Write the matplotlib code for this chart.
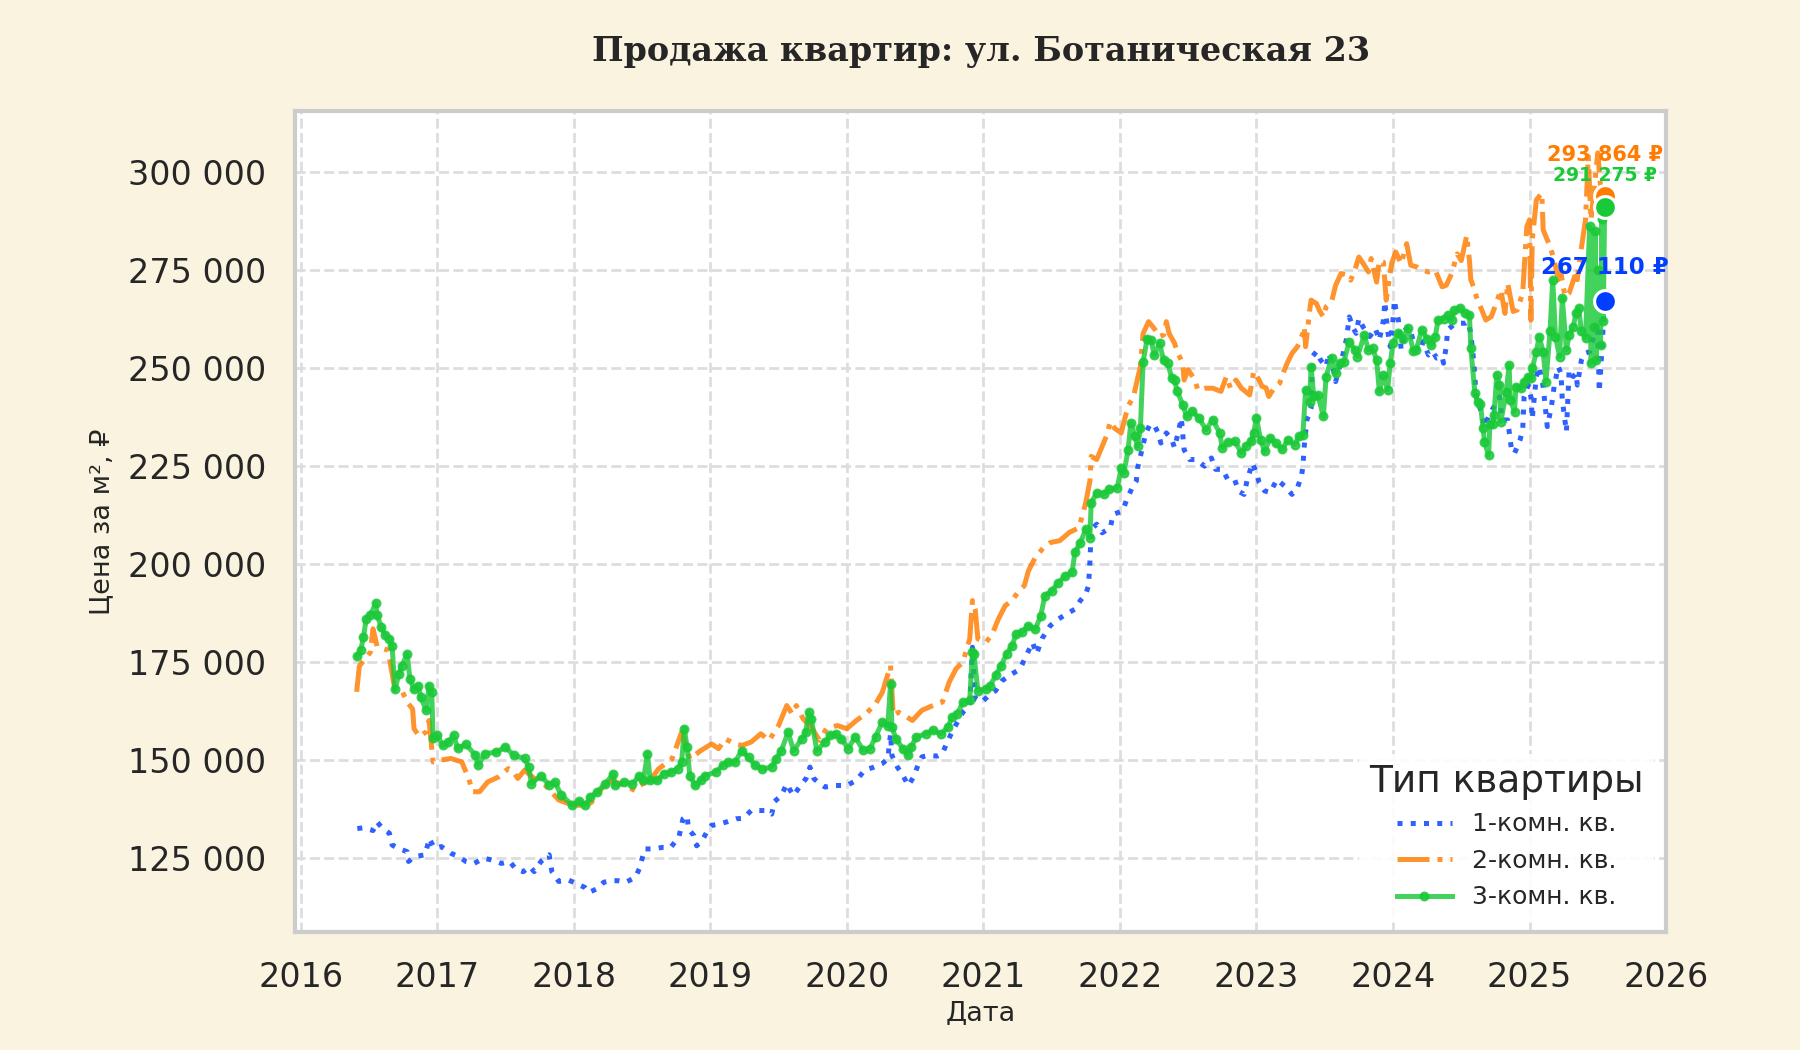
import matplotlib
matplotlib.use("Agg")
import matplotlib.pyplot as plt
import numpy as np
from matplotlib.ticker import FuncFormatter, FixedLocator

# ---------------- data (decimal years, price per m2) ----------------
t1 = [2016.415, 2016.46, 2016.53, 2016.56, 2016.60, 2016.65, 2016.67, 2016.71, 2016.78, 2016.79,
      2016.83, 2016.91, 2016.93, 2016.94, 2016.98, 2017.03, 2017.10, 2017.16, 2017.21, 2017.27,
      2017.34, 2017.40, 2017.47, 2017.53, 2017.58, 2017.63, 2017.68, 2017.71, 2017.76, 2017.82,
      2017.84, 2017.89, 2017.96, 2018.04, 2018.08, 2018.11, 2018.17, 2018.22, 2018.27, 2018.32,
      2018.38, 2018.45, 2018.48, 2018.52, 2018.58, 2018.65, 2018.71, 2018.77, 2018.80, 2018.83,
      2018.84, 2018.88, 2018.90, 2018.94, 2018.98, 2019.01, 2019.07, 2019.13, 2019.19, 2019.24,
      2019.30, 2019.37, 2019.41, 2019.45, 2019.47, 2019.52, 2019.56, 2019.58, 2019.61, 2019.66,
      2019.70, 2019.73, 2019.76, 2019.79, 2019.84, 2019.92, 2020.00, 2020.07, 2020.13, 2020.20,
      2020.26, 2020.30, 2020.32, 2020.33, 2020.37, 2020.41, 2020.45, 2020.49, 2020.52, 2020.55,
      2020.60, 2020.66, 2020.70, 2020.73, 2020.77, 2020.81, 2020.85, 2020.90, 2020.92, 2020.94,
      2020.99, 2021.04, 2021.09, 2021.14, 2021.19, 2021.25, 2021.28, 2021.32, 2021.36, 2021.39,
      2021.43, 2021.49, 2021.55, 2021.61, 2021.67, 2021.71, 2021.75, 2021.77, 2021.78, 2021.79,
      2021.83, 2021.87, 2021.93, 2021.95, 2022.02, 2022.05, 2022.09, 2022.12, 2022.13, 2022.15,
      2022.17, 2022.19, 2022.22, 2022.25, 2022.28, 2022.30, 2022.34, 2022.38, 2022.40, 2022.42,
      2022.45, 2022.47, 2022.51, 2022.56, 2022.62, 2022.67, 2022.70, 2022.75, 2022.79, 2022.84,
      2022.87, 2022.91, 2022.93, 2022.97, 2023.00, 2023.02, 2023.06, 2023.10, 2023.15, 2023.22,
      2023.26, 2023.30, 2023.33, 2023.34, 2023.35, 2023.37, 2023.40, 2023.41, 2023.44, 2023.47,
      2023.51, 2023.53, 2023.56, 2023.58, 2023.63, 2023.66, 2023.68, 2023.71, 2023.73, 2023.75,
      2023.78, 2023.83, 2023.87, 2023.90, 2023.93, 2023.94, 2023.96, 2023.98, 2024.00, 2024.01,
      2024.02, 2024.04, 2024.06, 2024.09, 2024.12, 2024.16, 2024.20, 2024.22, 2024.26, 2024.29,
      2024.32, 2024.36, 2024.37, 2024.39, 2024.40, 2024.44, 2024.48, 2024.53, 2024.55, 2024.57,
      2024.59, 2024.61, 2024.65, 2024.67, 2024.71, 2024.74, 2024.78, 2024.80, 2024.84, 2024.87,
      2024.89, 2024.93, 2024.95, 2024.96, 2024.99, 2025.01, 2025.02, 2025.05, 2025.07, 2025.10,
      2025.12, 2025.13, 2025.16, 2025.18, 2025.21, 2025.23, 2025.24, 2025.27, 2025.29, 2025.32,
      2025.34, 2025.35, 2025.38, 2025.40, 2025.44, 2025.47, 2025.50, 2025.51, 2025.52, 2025.55]
v1 = [132500, 132700, 132000, 134200, 132500, 131300, 128300, 127500, 126600, 124100,
      125300, 125800, 128300, 130000, 127500, 127900, 126200, 125300, 124100, 123600,
      124900, 124500, 123600, 124100, 122000, 121500, 122800, 121500, 124100, 125800,
      121500, 119000, 119400, 118100, 117500, 116200, 117100, 118800, 119200, 119200,
      118800, 120000, 122200, 127300, 127300, 127700, 127700, 130300, 135000, 135800,
      132400, 130700, 128100, 129400, 132000, 133300, 133700, 134300, 135000, 135100,
      137100, 137100, 137100, 136200, 139400, 140900, 143900, 142600, 140900, 143500,
      145200, 148200, 145200, 144300, 143100, 143500, 143500, 144800, 147400, 148200,
      149100, 150300, 156700, 151200, 148200, 146100, 143500, 145700, 148600, 150800,
      151200, 151000, 151600, 154200, 157100, 159700, 162200, 163900, 178800, 165600,
      164800, 166500, 167700, 170300, 171600, 172800, 174100, 177100, 180000, 177100,
      181000, 184300, 186000, 187300, 188500, 190700, 192400, 194500, 200400, 208900,
      210200, 208000, 209300, 212700, 213600, 216500, 219500, 221200, 224600, 227500,
      230500, 233500, 235600, 235600, 233500, 230900, 233500, 231800, 229700, 232600,
      237300, 229200, 226700, 226700, 225000, 227100, 224200, 224200, 221600, 221600,
      218600, 217800, 221200, 225800, 223300, 220800, 218700, 218300, 221600, 219500,
      217800, 219500, 222500, 225000, 230100, 236900, 239800, 253000, 254300, 252100,
      250400, 253800, 250400, 246600, 253000, 257600, 263100, 260200, 258900, 262700,
      260600, 258100, 260200, 257200, 262300, 267000, 259800, 255500, 262300, 267400,
      265300, 262300, 254700, 259800, 260600, 255500, 254300, 256800, 253400, 254300,
      252600, 253000, 251300, 255500, 259800, 261000, 261500, 261500, 261900, 258900,
      252100, 242700, 238500, 235100, 238500, 240200, 242700, 236800, 236800, 228700,
      228300, 231700, 234200, 242700, 245700, 242700, 237200, 247900, 250400, 245300,
      238500, 235100, 240200, 245300, 250400, 248700, 241900, 233800, 249600, 247900,
      248700, 245700, 252100, 253800, 254200, 258100, 261500, 244000, 248700, 267110]

t2 = [2016.41, 2016.43, 2016.51, 2016.53, 2016.56, 2016.64, 2016.69, 2016.74, 2016.78, 2016.82,
      2016.83, 2016.87, 2016.92, 2016.94, 2016.97, 2017.03, 2017.10, 2017.18, 2017.23, 2017.26,
      2017.31, 2017.37, 2017.45, 2017.52, 2017.56, 2017.59, 2017.64, 2017.71, 2017.79, 2017.89,
      2017.99, 2018.085, 2018.13, 2018.21, 2018.28, 2018.37, 2018.45, 2018.48, 2018.56, 2018.62,
      2018.72, 2018.79, 2018.83, 2018.85, 2018.93, 2019.01, 2019.06, 2019.11, 2019.18, 2019.23,
      2019.30, 2019.37, 2019.43, 2019.50, 2019.56, 2019.60, 2019.63, 2019.68, 2019.74, 2019.80,
      2019.85, 2019.93, 2020.00, 2020.07, 2020.14, 2020.21, 2020.26, 2020.32, 2020.34, 2020.38,
      2020.42, 2020.48, 2020.55, 2020.63, 2020.70, 2020.75, 2020.80, 2020.85, 2020.90, 2020.92,
      2020.94, 2020.96, 2021.02, 2021.07, 2021.11, 2021.16, 2021.21, 2021.26, 2021.30, 2021.33,
      2021.38, 2021.44, 2021.49, 2021.56, 2021.63, 2021.70, 2021.75, 2021.78, 2021.79, 2021.83,
      2021.87, 2021.90, 2021.93, 2021.96, 2022.01, 2022.04, 2022.06, 2022.10, 2022.13, 2022.15,
      2022.17, 2022.21, 2022.25, 2022.29, 2022.32, 2022.34, 2022.36, 2022.40, 2022.42, 2022.46,
      2022.47, 2022.50, 2022.55, 2022.57, 2022.62, 2022.68, 2022.74, 2022.78, 2022.81, 2022.85,
      2022.89, 2022.95, 2022.98, 2023.02, 2023.04, 2023.07, 2023.09, 2023.13, 2023.17, 2023.20,
      2023.23, 2023.26, 2023.30, 2023.34, 2023.35, 2023.36, 2023.39, 2023.40, 2023.44, 2023.46,
      2023.49, 2023.51, 2023.55, 2023.58, 2023.62, 2023.67, 2023.69, 2023.72, 2023.75, 2023.79,
      2023.82, 2023.84, 2023.88, 2023.90, 2023.93, 2023.95, 2023.99, 2024.02, 2024.06, 2024.10,
      2024.13, 2024.18, 2024.22, 2024.26, 2024.31, 2024.36, 2024.39, 2024.43, 2024.47, 2024.50,
      2024.54, 2024.56, 2024.57, 2024.59, 2024.61, 2024.65, 2024.68, 2024.72, 2024.76, 2024.79,
      2024.82, 2024.84, 2024.88, 2024.91, 2024.95, 2024.98, 2025.00, 2025.01, 2025.02, 2025.05,
      2025.09, 2025.10, 2025.12, 2025.15, 2025.18, 2025.21, 2025.23, 2025.26, 2025.29, 2025.33,
      2025.35, 2025.36, 2025.41, 2025.43, 2025.45, 2025.47, 2025.50, 2025.52, 2025.55]
v2 = [167400, 174000, 177500, 183500, 179000, 178000, 168000, 167800, 164800, 163000,
      158000, 156000, 157200, 160100, 149500, 150000, 150400, 149500, 145300, 141900,
      141900, 144400, 145700, 147800, 146900, 145300, 147400, 145300, 143600, 139800,
      138500, 138400, 139200, 143000, 144800, 143500, 142200, 143500, 144800, 147700,
      150300, 157100, 152900, 150300, 152400, 154100, 152900, 155400, 154100, 153700,
      154600, 156700, 155000, 158800, 163900, 161800, 163900, 160500, 158400, 155000,
      158000, 158800, 158000, 160100, 161800, 164300, 167300, 174100, 161400, 162200,
      161400, 160100, 162700, 163900, 164800, 169900, 173300, 175000, 180900, 190700,
      188500, 180900, 180000, 182600, 186000, 189400, 190700, 193200, 194500, 198300,
      201700, 204200, 205500, 206000, 208100, 209300, 215700, 221200, 227500, 226700,
      230100, 232600, 236400, 234700, 233500, 237700, 240300, 242800, 247500, 250400,
      258900, 261900, 260200, 258100, 258500, 261900, 258900, 256400, 254200, 251300,
      247000, 249600, 247000, 244500, 244900, 244900, 244100, 247900, 244900, 247000,
      244900, 243200, 249200, 247000, 245400, 245000, 242800, 245000, 246200, 249200,
      251700, 253800, 255500, 258900, 260600, 255500, 264800, 267400, 266500, 264800,
      263100, 265700, 267000, 271200, 274200, 273700, 272500, 275000, 278400, 276300,
      274600, 278000, 272000, 277500, 277100, 267400, 276700, 279700, 276700, 281800,
      276300, 275800, 275000, 274600, 275000, 270800, 271200, 274200, 279200, 277500,
      283900, 277500, 272600, 270800, 268300, 264900, 262300, 263200, 267000, 270000,
      264000, 271700, 264500, 264900, 269200, 286200, 287900, 262300, 282800, 293000,
      294700, 285300, 283600, 281100, 277700, 272600, 274300, 268300, 269200, 273400,
      272600, 276000, 287900, 304100, 287900, 294700, 305000, 296400, 293864]

t3 = [2016.415, 2016.44, 2016.46, 2016.48, 2016.51, 2016.55, 2016.56, 2016.59, 2016.62, 2016.65,
      2016.67, 2016.69, 2016.72, 2016.74, 2016.78, 2016.80, 2016.83, 2016.86, 2016.88, 2016.92,
      2016.94, 2016.96, 2016.97, 2017.00, 2017.04, 2017.08, 2017.12, 2017.15, 2017.21, 2017.28,
      2017.30, 2017.35, 2017.43, 2017.50, 2017.56, 2017.64, 2017.67, 2017.69, 2017.76, 2017.82,
      2017.86, 2017.91, 2017.99, 2018.04, 2018.085, 2018.12, 2018.17, 2018.23, 2018.29, 2018.30,
      2018.37, 2018.43, 2018.48, 2018.51, 2018.54, 2018.56, 2018.61, 2018.66, 2018.71, 2018.76,
      2018.79, 2018.81, 2018.83, 2018.85, 2018.89, 2018.93, 2018.96, 2019.04, 2019.09, 2019.13,
      2019.18, 2019.23, 2019.28, 2019.33, 2019.38, 2019.45, 2019.48, 2019.52, 2019.57, 2019.61,
      2019.67, 2019.70, 2019.72, 2019.74, 2019.78, 2019.84, 2019.88, 2019.92, 2019.96, 2020.01,
      2020.06, 2020.12, 2020.17, 2020.21, 2020.26, 2020.30, 2020.32, 2020.33, 2020.36, 2020.41,
      2020.45, 2020.47, 2020.51, 2020.58, 2020.63, 2020.69, 2020.74, 2020.77, 2020.81, 2020.85,
      2020.90, 2020.92, 2020.93, 2020.96, 2021.02, 2021.05, 2021.09, 2021.13, 2021.17, 2021.21,
      2021.24, 2021.28, 2021.33, 2021.38, 2021.42, 2021.45, 2021.50, 2021.55, 2021.60, 2021.65,
      2021.67, 2021.71, 2021.75, 2021.78, 2021.79, 2021.83, 2021.88, 2021.92, 2021.98, 2022.01,
      2022.03, 2022.06, 2022.08, 2022.11, 2022.13, 2022.15, 2022.17, 2022.20, 2022.23, 2022.25,
      2022.29, 2022.32, 2022.35, 2022.38, 2022.40, 2022.42, 2022.46, 2022.49, 2022.53, 2022.58,
      2022.63, 2022.68, 2022.73, 2022.75, 2022.79, 2022.84, 2022.89, 2022.92, 2022.96, 2022.98,
      2023.00, 2023.03, 2023.06, 2023.10, 2023.14, 2023.19, 2023.23, 2023.28, 2023.31, 2023.34,
      2023.36, 2023.39, 2023.40, 2023.42, 2023.45, 2023.49, 2023.51, 2023.55, 2023.58, 2023.61,
      2023.64, 2023.68, 2023.72, 2023.74, 2023.79, 2023.82, 2023.85, 2023.88, 2023.90, 2023.93,
      2023.96, 2023.98, 2024.00, 2024.04, 2024.07, 2024.11, 2024.15, 2024.17, 2024.21, 2024.25,
      2024.28, 2024.31, 2024.33, 2024.37, 2024.40, 2024.43, 2024.45, 2024.49, 2024.53, 2024.56,
      2024.57, 2024.60, 2024.62, 2024.64, 2024.66, 2024.67, 2024.70, 2024.71, 2024.73, 2024.74,
      2024.76, 2024.78, 2024.79, 2024.83, 2024.85, 2024.86, 2024.89, 2024.90, 2024.94, 2024.96,
      2024.99, 2025.01, 2025.02, 2025.05, 2025.07, 2025.10, 2025.12, 2025.15, 2025.17, 2025.19,
      2025.22, 2025.24, 2025.27, 2025.29, 2025.32, 2025.34, 2025.36, 2025.38, 2025.41, 2025.44,
      2025.45, 2025.47, 2025.48, 2025.49, 2025.50, 2025.52, 2025.53, 2025.54, 2025.55]
v3 = [176500, 178000, 181400, 186000, 187000, 190000, 187000, 184000, 181800, 181000,
      179000, 168000, 172000, 174000, 177000, 170700, 168000, 169000, 166000, 162700,
      169000, 167400, 155500, 156300, 153800, 154500, 156300, 153000, 154000, 151200,
      148700, 151600, 152000, 153300, 151200, 150400, 148200, 144000, 146000, 143600,
      144400, 141000, 138500, 139500, 138400, 140500, 141800, 143900, 146500, 143500,
      144300, 143900, 146000, 144800, 151600, 144800, 144800, 146500, 146900, 147700,
      149400, 158000, 153300, 146000, 143500, 144800, 146000, 146900, 148600, 149400,
      149400, 152400, 150700, 148600, 147700, 148200, 150300, 152400, 157100, 152400,
      155400, 157100, 162200, 160500, 152400, 154600, 156300, 156700, 155400, 152900,
      155900, 152500, 152900, 155900, 159700, 158800, 169400, 158400, 155400, 152900,
      151200, 153300, 155900, 156700, 157600, 156700, 158400, 160900, 161800, 164800,
      165200, 177500, 177100, 167700, 168200, 169000, 171600, 174100, 177100, 179200,
      182200, 182600, 184300, 183400, 186800, 191900, 193200, 195300, 197000, 197900,
      203000, 205500, 208900, 206800, 215700, 218200, 217800, 219100, 219500, 224600,
      223300, 229200, 236000, 232600, 230100, 234700, 251700, 257600, 257200, 253400,
      256400, 252100, 251300, 247500, 247000, 244100, 240700, 237700, 239000, 237300,
      234300, 236900, 233500, 229700, 231100, 231400, 228400, 230100, 231400, 233500,
      237300, 231800, 228800, 232200, 230900, 229300, 231800, 230500, 232600, 233000,
      244500, 241500, 250400, 242800, 243200, 237700, 247900, 252600, 248700, 251300,
      251700, 256800, 254700, 253000, 258500, 254700, 255100, 252100, 244100, 248300,
      244500, 251300, 256400, 258900, 257600, 260200, 254300, 254700, 259800, 257600,
      255900, 258100, 262300, 262700, 263600, 262300, 264800, 265300, 264000, 263600,
      255100, 243600, 241500, 241000, 234700, 231200, 227800, 235900, 235900, 238100,
      248300, 245700, 236400, 244000, 250800, 241900, 238900, 245300, 244900, 246600,
      247900, 247400, 250000, 254200, 258100, 254200, 246600, 259400, 272600, 258100,
      253000, 267900, 254700, 258500, 260600, 264000, 265300, 259400, 257700, 286200,
      251300, 260600, 285000, 252000, 275100, 256000, 288000, 262000, 291275]

series_names = ["1-комн. кв.", "2-комн. кв.", "3-комн. кв."]
series_colors = ["#023eff", "#ff7c00", "#1ac938"]
year_ticks = list(range(2016, 2027))
price_ticks = [125000, 150000, 175000, 200000, 225000, 250000, 275000, 300000]

title_text = "Продажа квартир: ул. Ботаническая 23"
xlabel_text = "Дата"
ylabel_text = "Цена за м², ₽"
legend_title = "Тип квартиры"

# ---------------- figure ----------------
bg = "#faf3e0"
fig = plt.figure(figsize=(12, 7), dpi=150, facecolor=bg)
ax = fig.add_axes([0.164, 0.1124, 0.7616, 0.7816])
ax.set_facecolor("white")

styles = [dict(linestyle=":", linewidth=2.4),
          dict(linestyle="-.", linewidth=2.4),
          dict(linestyle="-", linewidth=2.4, marker="o", markersize=3.8)]
data = [(t1, v1), (t2, v2), (t3, v3)]
for (tx, vy), name, col, st in zip(data, series_names, series_colors, styles):
    ax.plot(tx, vy, color=col, alpha=0.82, label=name, zorder=3, **st)

# end points with value labels
label_sizes = [11, 10, 9]
label_offsets = [16, 20, 15]
for (tx, vy), col, fs, off in zip(data, series_colors, label_sizes, label_offsets):
    ax.scatter([tx[-1]], [vy[-1]], s=110, color=col, edgecolor="white",
               linewidth=1.5, zorder=5)
    ax.annotate(f"{vy[-1]:,} ₽".replace(",", " "), (tx[-1], vy[-1]),
                xytext=(0, off), textcoords="offset points", ha="center",
                va="center", color=col, fontsize=fs, fontweight="bold", zorder=6)

ax.set_xlim(2015.96, 2026.0)
ax.set_ylim(106100, 315600)
ax.xaxis.set_major_locator(FixedLocator(year_ticks))
ax.set_xticklabels([str(y) for y in year_ticks])
ax.yaxis.set_major_locator(FixedLocator(price_ticks))
ax.yaxis.set_major_formatter(FuncFormatter(lambda v, p: f"{int(v):,}".replace(",", " ")))
ax.tick_params(axis="both", labelsize=16, length=0, pad=14, labelcolor="#262626")

ax.grid(True, linestyle="--", color="#dddddd", linewidth=1.3, zorder=0)
ax.set_axisbelow(True)
for sp in ax.spines.values():
    sp.set_color("#cccccc")
    sp.set_linewidth(2)

ax.set_xlabel(xlabel_text, fontsize=13, color="#262626", labelpad=3)
ax.set_ylabel(ylabel_text, fontsize=13, color="#262626", labelpad=6)
ax.set_title(title_text, fontsize=16, fontweight="bold", family="DejaVu Serif",
             color="#262626", pad=24)

leg = ax.legend(title=legend_title, loc="lower right", fontsize=12, title_fontsize=18,
                frameon=True, facecolor="white", edgecolor="none", framealpha=0.9,
                handlelength=2.2, borderaxespad=0.5)
for txt in leg.get_texts():
    txt.set_color("#262626")
leg.get_title().set_color("#262626")

fig.savefig("out.png", dpi=150, facecolor=bg)
